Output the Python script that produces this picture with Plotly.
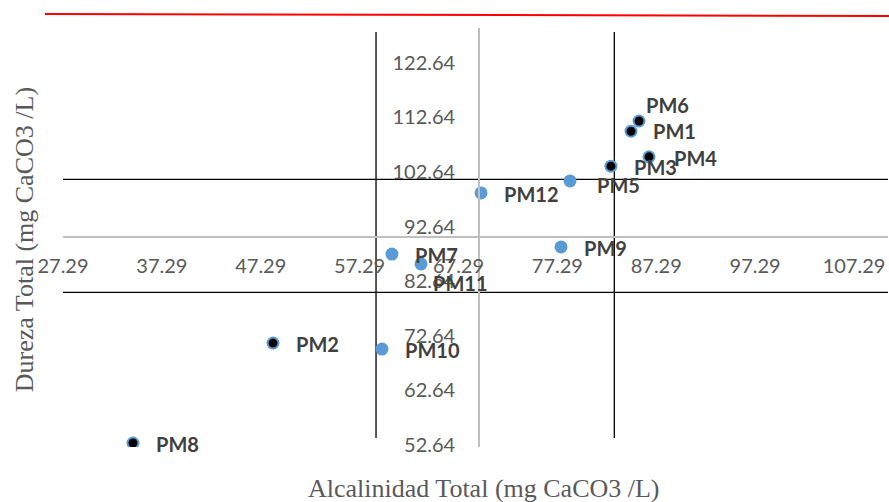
import plotly.graph_objects as go

# ---- data ----
names = ["PM1", "PM2", "PM3", "PM4", "PM5", "PM6",
         "PM7", "PM8", "PM9", "PM10", "PM11", "PM12"]
alcalinidad = [84.74, 48.53, 82.71, 86.56, 78.57, 85.55,
               60.56, 34.37, 77.66, 59.55, 63.50, 69.57]
dureza = [110.1, 71.3, 103.7, 105.4, 101.0, 111.97,
          87.6, 53.0, 88.9, 70.2, 85.8, 98.8]
highlight = [True, True, True, True, False, True,
             False, True, False, False, False, False]

x_ticks = [27.29, 37.29, 47.29, 57.29, 67.29, 77.29, 87.29, 97.29, 107.29]
y_ticks = [52.64, 62.64, 72.64, 82.64, 92.64, 102.64, 112.64, 122.64]
x_range = [27.29, 110.73]
y_range = [52.27, 129.0]
x_cross = 69.36   # where the vertical axis crosses
y_cross = 90.67   # where the horizontal axis crosses
v_lines = [58.95, 83.05]
v_line_span = [53.92, 128.27]
h_lines = [80.6, 101.29]

# label offsets in pixels (xshift to label left edge, yshift up)
label_shift = {"PM6": (7, 16), "PM1": (22, 0), "PM4": (25, -1),
               "PM11": (12, -19), "PM5": (27, -4)}

BLUE = "#5B9BD5"
TICK_COLOR = "#595959"

fig = go.Figure()

xs_b = [x for x, h in zip(alcalinidad, highlight) if not h]
ys_b = [y for y, h in zip(dureza, highlight) if not h]
xs_k = [x for x, h in zip(alcalinidad, highlight) if h]
ys_k = [y for y, h in zip(dureza, highlight) if h]

fig.add_trace(go.Scatter(x=xs_b, y=ys_b, mode="markers",
                         marker=dict(color=BLUE, size=13, line=dict(width=0)),
                         showlegend=False, hoverinfo="skip"))
fig.add_trace(go.Scatter(x=xs_k, y=ys_k, mode="markers",
                         marker=dict(color="black", size=11,
                                     line=dict(color=BLUE, width=2)),
                         showlegend=False, hoverinfo="skip"))

shapes = []
for v in v_lines:
    shapes.append(dict(type="line", xref="x", yref="y", x0=v, x1=v,
                       y0=v_line_span[0], y1=v_line_span[1],
                       line=dict(color="black", width=1.3), layer="below"))
for h in h_lines:
    shapes.append(dict(type="line", xref="x", yref="y", x0=x_range[0], x1=x_range[1],
                       y0=h, y1=h,
                       line=dict(color="black", width=1.3), layer="below"))
# red line above the chart
shapes.append(dict(type="line", xref="paper", yref="paper",
                   x0=-0.022, x1=1.002, y0=1.0334, y1=1.0286,
                   line=dict(color="#FF0000", width=2)))

annotations = []
for n, x, y in zip(names, alcalinidad, dureza):
    dx, dy = label_shift.get(n, (23, -1))
    annotations.append(dict(x=x, y=y, xref="x", yref="y", text=f"<b>{n}</b>",
                            showarrow=False, xanchor="left", yanchor="middle",
                            xshift=dx - 2, yshift=dy,
                            font=dict(family="Lato", size=20, color="#404040")))

annotations.append(dict(x=0.51, y=-0.1, xref="paper", yref="paper",
                        text="Alcalinidad Total (mg CaCO3 /L)", showarrow=False,
                        xanchor="center", yanchor="middle",
                        font=dict(family="Liberation Serif", size=26, color=TICK_COLOR)))
annotations.append(dict(x=-0.047, y=0.494, xref="paper", yref="paper",
                        text="Dureza Total (mg CaCO3 /L)", showarrow=False, textangle=-90,
                        xanchor="center", yanchor="middle",
                        font=dict(family="Liberation Serif", size=26, color=TICK_COLOR)))

xpos = (y_cross - y_range[0]) / (y_range[1] - y_range[0])
ypos = (x_cross - x_range[0]) / (x_range[1] - x_range[0])

fig.update_layout(
    width=889, height=502,
    margin=dict(l=63, r=1, t=28, b=55),
    paper_bgcolor="white", plot_bgcolor="white",
    shapes=shapes, annotations=annotations,
    xaxis=dict(range=x_range, anchor="free", position=xpos,
               tickmode="array", tickvals=x_ticks,
               ticktext=[f"{v:.2f}" for v in x_ticks],
               showgrid=False, zeroline=False, showline=True,
               linecolor="#BFBFBF", linewidth=1.5, ticks="",
               ticklabelstandoff=11,
               tickfont=dict(family="Lato", size=20, color=TICK_COLOR)),
    yaxis=dict(range=y_range, anchor="free", position=ypos,
               tickmode="array", tickvals=y_ticks,
               ticktext=[f"{v:.2f}" for v in y_ticks],
               showgrid=False, zeroline=False, showline=True,
               linecolor="#BFBFBF", linewidth=1.5, ticks="",
               ticklabelstandoff=19,
               tickfont=dict(family="Lato", size=20, color=TICK_COLOR)),
)

fig.write_html("out.html", config={"displayModeBar": False},
               post_script="document.body.style.margin='0';document.body.style.overflow='hidden';")
